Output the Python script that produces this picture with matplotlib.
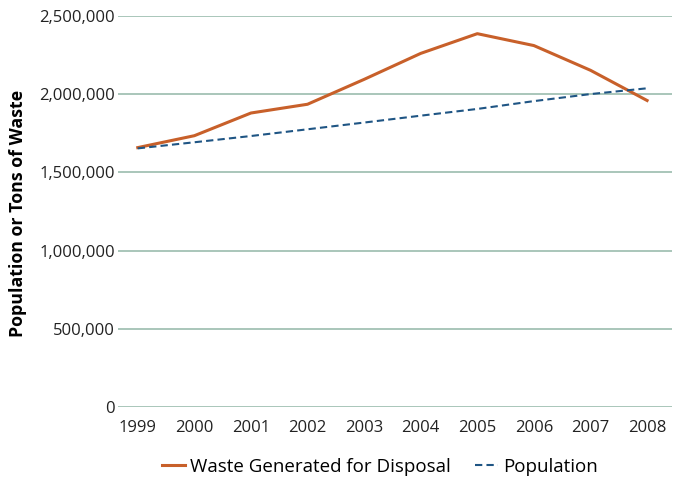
import numpy as np
import matplotlib
matplotlib.use('Agg')
import matplotlib.pyplot as plt
from matplotlib.ticker import FuncFormatter

# data
years = [1999, 2000, 2001, 2002, 2003, 2004, 2005, 2006, 2007, 2008]
waste = [1658000, 1734000, 1879000, 1935000, 2094000, 2260000, 2386000, 2310000, 2152000, 1959000]
population = [1653000, 1692000, 1732000, 1775000, 1818000, 1862000, 1905000, 1955000, 2000000, 2037000]

plt.rcParams['font.family'] = ['Open Sans', 'DejaVu Sans']

fig = plt.figure(figsize=(6.74, 4.8), dpi=100)
ax = fig.add_axes([0.175, 0.152, 0.822, 0.815])

ax.plot(years, waste, color='#c8602a', linewidth=2.2, label='Waste Generated for Disposal')
ax.plot(years, population, color='#1f5584', linewidth=1.5, linestyle=(0, (3.5, 2)),
        label='Population')

ax.set_ylim(0, 2500000)
ax.set_xlim(1998.65, 2008.44)
ax.set_yticks(np.arange(0, 2500001, 500000))
ax.set_xticks(years)
ax.yaxis.set_major_formatter(FuncFormatter(lambda v, pos: '{:,.0f}'.format(v)))
ax.grid(axis='y', color='#9bbcae', linewidth=1.2)
ax.set_axisbelow(True)
for s in ax.spines.values():
    s.set_visible(False)
ax.tick_params(axis='both', length=0, labelsize=12, colors='#222222')
ax.tick_params(axis='y', pad=2)
ax.tick_params(axis='x', pad=9)

ax.set_ylabel('Population or Tons of Waste', fontsize=12.8, fontweight='bold')
ax.yaxis.set_label_coords(-0.164, 0.496)

leg = fig.legend(loc='center', bbox_to_anchor=(0.564, 13 / 480), ncol=2, frameon=False,
                 fontsize=13.5, handlelength=1.2, columnspacing=1.3, handletextpad=0.3)

fig.savefig('out.png', dpi=100)
